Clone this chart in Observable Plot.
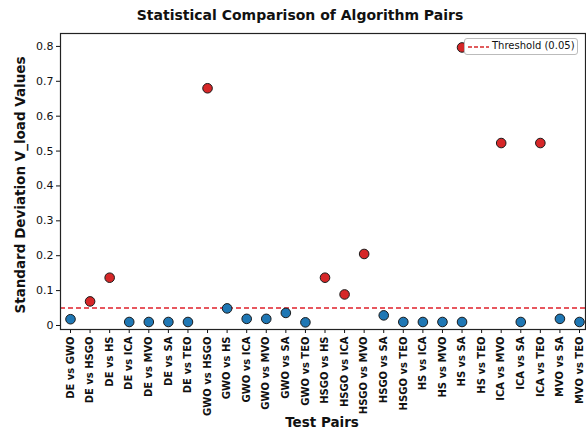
<!DOCTYPE html>
<html><head><meta charset="utf-8">
<script src="https://cdn.jsdelivr.net/npm/d3@7"></script>
<script src="https://cdn.jsdelivr.net/npm/@observablehq/plot@0.6"></script>
<style>
body{margin:0;background:#fff;font-family:"DejaVu Sans",sans-serif;}
#wrap{position:relative;width:586px;height:432px;overflow:hidden;}
#title{position:absolute;left:0;width:600px;top:0;height:28px;text-align:center;font-weight:bold;font-size:14px;line-height:31px;color:#111;}
#chart{position:absolute;top:28px;left:0;}
#ylab{position:absolute;left:20px;top:185px;transform:translate(-50%,-50%) rotate(-90deg);white-space:nowrap;font-weight:bold;font-size:13.5px;color:#111;}
#xlab{position:absolute;left:322px;top:422px;transform:translate(-50%,-50%);white-space:nowrap;font-weight:bold;font-size:13.5px;color:#111;}
#legend{position:absolute;left:464px;top:38px;width:112px;height:15px;border:1px solid #bbb;border-radius:3px;background:#fff;font-size:10px;color:#111;}
#legend svg{position:absolute;left:3px;top:7px;}
#legend span{position:absolute;left:27px;top:1px;}
</style></head>
<body>
<div id="wrap">
  <div id="title">Statistical Comparison of Algorithm Pairs</div>
  <div id="chart"></div>
  <div id="ylab">Standard Deviation V_load Values</div>
  <div id="xlab">Test Pairs</div>
  <div id="legend"><svg width="22" height="2"><line x1="0" y1="1" x2="21" y2="1" stroke="#d62728" stroke-width="1.5" stroke-dasharray="4,2"/></svg><span>Threshold (0.05)</span></div>
</div>
<script>
const pairs = ["DE vs GWO","DE vs HSGO","DE vs HS","DE vs ICA","DE vs MVO","DE vs SA","DE vs TEO",
  "GWO vs HSGO","GWO vs HS","GWO vs ICA","GWO vs MVO","GWO vs SA","GWO vs TEO",
  "HSGO vs HS","HSGO vs ICA","HSGO vs MVO","HSGO vs SA","HSGO vs TEO",
  "HS vs ICA","HS vs MVO","HS vs SA","HS vs TEO","ICA vs MVO","ICA vs SA","ICA vs TEO","MVO vs SA","MVO vs TEO"];
const pointPairs = ["DE vs GWO","DE vs HSGO","DE vs HS","DE vs ICA","DE vs MVO","DE vs SA","DE vs TEO",
  "GWO vs HSGO","GWO vs HS","GWO vs ICA","GWO vs MVO","GWO vs SA","GWO vs TEO",
  "HSGO vs HS","HSGO vs ICA","HSGO vs MVO","HSGO vs SA","HSGO vs TEO",
  "HS vs ICA","HS vs MVO","HS vs SA","HS vs SA","ICA vs MVO","ICA vs SA","ICA vs TEO","MVO vs SA","MVO vs TEO"];
const pointValues = [0.018,0.069,0.137,0.010,0.010,0.010,0.010,
  0.680,0.049,0.019,0.019,0.036,0.009,
  0.137,0.089,0.205,0.029,0.010,
  0.010,0.010,0.010,0.797,0.523,0.010,0.523,0.019,0.010];
const threshold = 0.05;
const yTicks = [0,0.1,0.2,0.3,0.4,0.5,0.6,0.7,0.8];

const data = pointPairs.map((p,i)=>({pair:p, value:pointValues[i], sig: pointValues[i] > threshold}));

const chart = Plot.plot({
  width: 586, height: 404,
  marginLeft: 60, marginRight: 1, marginTop: 5, marginBottom: 103,
  style: {fontFamily: "DejaVu Sans, sans-serif", background: "#fff", color: "#111"},
  x: {type: "point", domain: pairs, padding: 0, round: false, insetLeft: 10, insetRight: 6},
  y: {domain: [-0.0115, 0.837]},
  marks: [
    Plot.ruleY([threshold], {stroke: "#e0202a", strokeWidth: 1.5, strokeDasharray: "5,3"}),
    Plot.dot(data, {x: "pair", y: "value", r: 4.8, fill: d => d.sig ? "#d62728" : "#1f77b4", stroke: "#1a1a1a", strokeWidth: 1}),
    Plot.axisY({ticks: yTicks, tickFormat: d => d === 0 ? "0" : d.toFixed(1), fontSize: 11, tickSize: 4, tickPadding: 3, label: null}),
    Plot.axisX({tickRotate: -90, fontSize: 10, fontWeight: "bold", tickSize: 4, tickPadding: 3, label: null}),
    Plot.frame({stroke: "#222", strokeWidth: 1.2})
  ]
});
document.getElementById("chart").appendChild(chart);
</script>
</body></html>
